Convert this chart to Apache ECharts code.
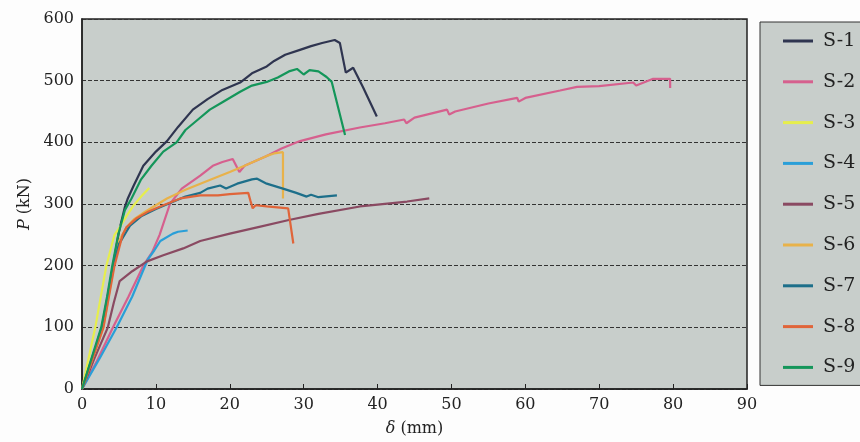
<!DOCTYPE html>
<html>
<head>
<meta charset="utf-8">
<script src="https://cdn.jsdelivr.net/npm/echarts@6/dist/echarts.min.js"></script>
<style>
  html, body { margin: 0; padding: 0; background: #fdfdfd; }
  #main { width: 860px; height: 442px; }
</style>
</head>
<body>
<div id="main"></div>
<script>
// 荷重-変位曲線のデータ[δ (mm), P (kN)]
var names = ['S-1', 'S-2', 'S-3', 'S-4', 'S-5', 'S-6', 'S-7', 'S-8', 'S-9'];
var colors = ['#2f3550', '#d6608e', '#e6ee4c', '#2a9fd8', '#8a4a62', '#e8b24a', '#1d6f8a', '#e0653a', '#14965a'];

var s1 = [[0,0],[1.4,50],[2.7,100],[3.5,150],[4.2,200],[5,255],[5.8,295],[6.2,309],[7,330],[8.3,362],[10,385],[11.5,402],[13,425],[15,453],[17,470],[19,485],[21.4,497],[23,512],[25,523],[26,532],[27.5,542],[29.5,550],[31,556],[32.5,561],[34.2,566],[34.9,561],[35.7,513],[36.7,521],[38,490],[39.9,442]];
var s2 = [[0,0],[2,45],[4.2,100],[6.3,150],[8.3,200],[9.5,222],[10.5,250],[11.9,300],[13.5,325],[16,346],[17.7,362],[19,368],[20.4,373],[21.3,352],[22,362],[25,378],[27,390],[29.5,402],[33,413],[37.6,424],[41,431],[43.6,437],[43.9,431],[45,440],[49.4,453],[49.7,445],[50.5,450],[55,463],[58.9,472],[59.1,466],[60,472],[64.7,484],[67,490],[70,491],[74.6,497],[75,492],[77.3,503],[79.6,503],[79.6,488]];
var s3 = [[0,0],[1.8,100],[3.3,200],[4.4,250],[5.1,262],[6,280],[7,298],[8,312],[9.1,326]];
var s4 = [[0,0],[2.4,50],[4.7,100],[6.8,150],[8.9,210],[9.8,225],[10.6,240],[12.3,252],[13,255],[14.3,257]];
var s5 = [[0,0],[1.7,50],[3.5,100],[4.3,140],[5.1,175],[6.8,191],[8.8,207],[11,217],[13.7,228],[16,240],[20,252],[24,263],[28,274],[32,284],[37.6,296],[40,299],[44,304],[47,309]];
var s6 = [[0,0],[2.9,100],[4.3,200],[5,240],[6,262],[7,275],[8.5,287],[10,298],[11.5,309],[14,323],[17.7,341],[20,352],[22,362],[25,378],[26,382],[27.2,384],[27.2,309]];
var s7 = [[0,0],[2.7,100],[4.2,200],[5,235],[6,255],[6.5,265],[8,280],[10,292],[12,302],[14,312],[16,318],[17,325],[18.7,330],[19.5,325],[21,333],[23,340],[23.7,341],[25,333],[27.2,325],[29,318],[30.4,312],[31,315],[32,311],[34.5,314]];
var s8 = [[0,0],[2.9,100],[4.4,200],[5.5,250],[6,262],[7.4,277],[9,288],[11,298],[13.3,309],[16,314],[18.4,314],[20,316],[22.5,318],[22.8,305],[23.1,293],[23.5,298],[25,296],[27.9,293],[28.6,236]];
var s9 = [[0,0],[1.3,50],[2.6,100],[3.4,150],[4.1,200],[4.9,250],[5.8,290],[6.7,309],[8,340],[9.4,362],[11,385],[12.8,400],[14,420],[15.5,435],[17.3,453],[19,465],[21.4,482],[23,492],[25,498],[26.5,505],[28,515],[29.1,519],[30,510],[30.8,517],[32,515],[33.1,506],[33.8,498],[35.6,412]];
var seriesData = [s1, s2, s3, s4, s5, s6, s7, s8, s9];

var font = 'DejaVu Serif';
var myChart = echarts.init(document.getElementById('main'));

var option = {
    backgroundColor: '#fdfdfd',
    animation: false,
    color: colors,
    textStyle: { fontFamily: font },
    grid: {
        left: 82, right: 113, top: 19, bottom: 50,
        show: true,
        backgroundColor: '#c8cecb',
        borderColor: '#222',
        borderWidth: 1.5
    },
    legend: {
        orient: 'vertical',
        left: 760,
        top: 22,
        padding: [9, 60, 8, 23],
        itemGap: 20.8,
        itemWidth: 30,
        itemHeight: 3,
        icon: 'rect',
        backgroundColor: '#c8cecb',
        borderColor: '#333',
        borderWidth: 1,
        textStyle: { fontFamily: font, fontSize: 19, lineHeight: 20, color: '#222', padding: [0, 0, 0, 5] },
        data: names
    },
    xAxis: {
        type: 'value',
        min: 0, max: 90, interval: 10,
        name: '{i|δ} (mm)',
        nameLocation: 'middle',
        nameGap: 32,
        nameTextStyle: {
            fontFamily: font, fontSize: 16, color: '#222',
            rich: { i: { fontFamily: font, fontStyle: 'italic', fontSize: 16, color: '#222' } }
        },
        axisLine: { lineStyle: { color: '#222', width: 1.5 } },
        axisTick: { inside: true, length: 5, lineStyle: { color: '#222' } },
        axisLabel: { fontFamily: font, fontSize: 16, color: '#222', margin: 8 },
        splitLine: { show: false }
    },
    yAxis: {
        type: 'value',
        min: 0, max: 600, interval: 100,
        name: '{i|P} (kN)',
        nameLocation: 'middle',
        nameGap: 47,
        nameRotate: 90,
        nameTextStyle: {
            fontFamily: font, fontSize: 16, color: '#222',
            rich: { i: { fontFamily: font, fontStyle: 'italic', fontSize: 16, color: '#222' } }
        },
        axisLine: { lineStyle: { color: '#222', width: 1.5 } },
        axisTick: { show: false },
        axisLabel: { fontFamily: font, fontSize: 16, color: '#222', margin: 8 },
        splitLine: { lineStyle: { color: '#333', type: 'dashed', width: 1 } }
    },
    series: names.map(function (n, i) {
        return {
            name: n,
            type: 'line',
            data: seriesData[i],
            symbol: 'none',
            lineStyle: { width: 2.2 }
        };
    })
};

myChart.setOption(option);
</script>
</body>
</html>
